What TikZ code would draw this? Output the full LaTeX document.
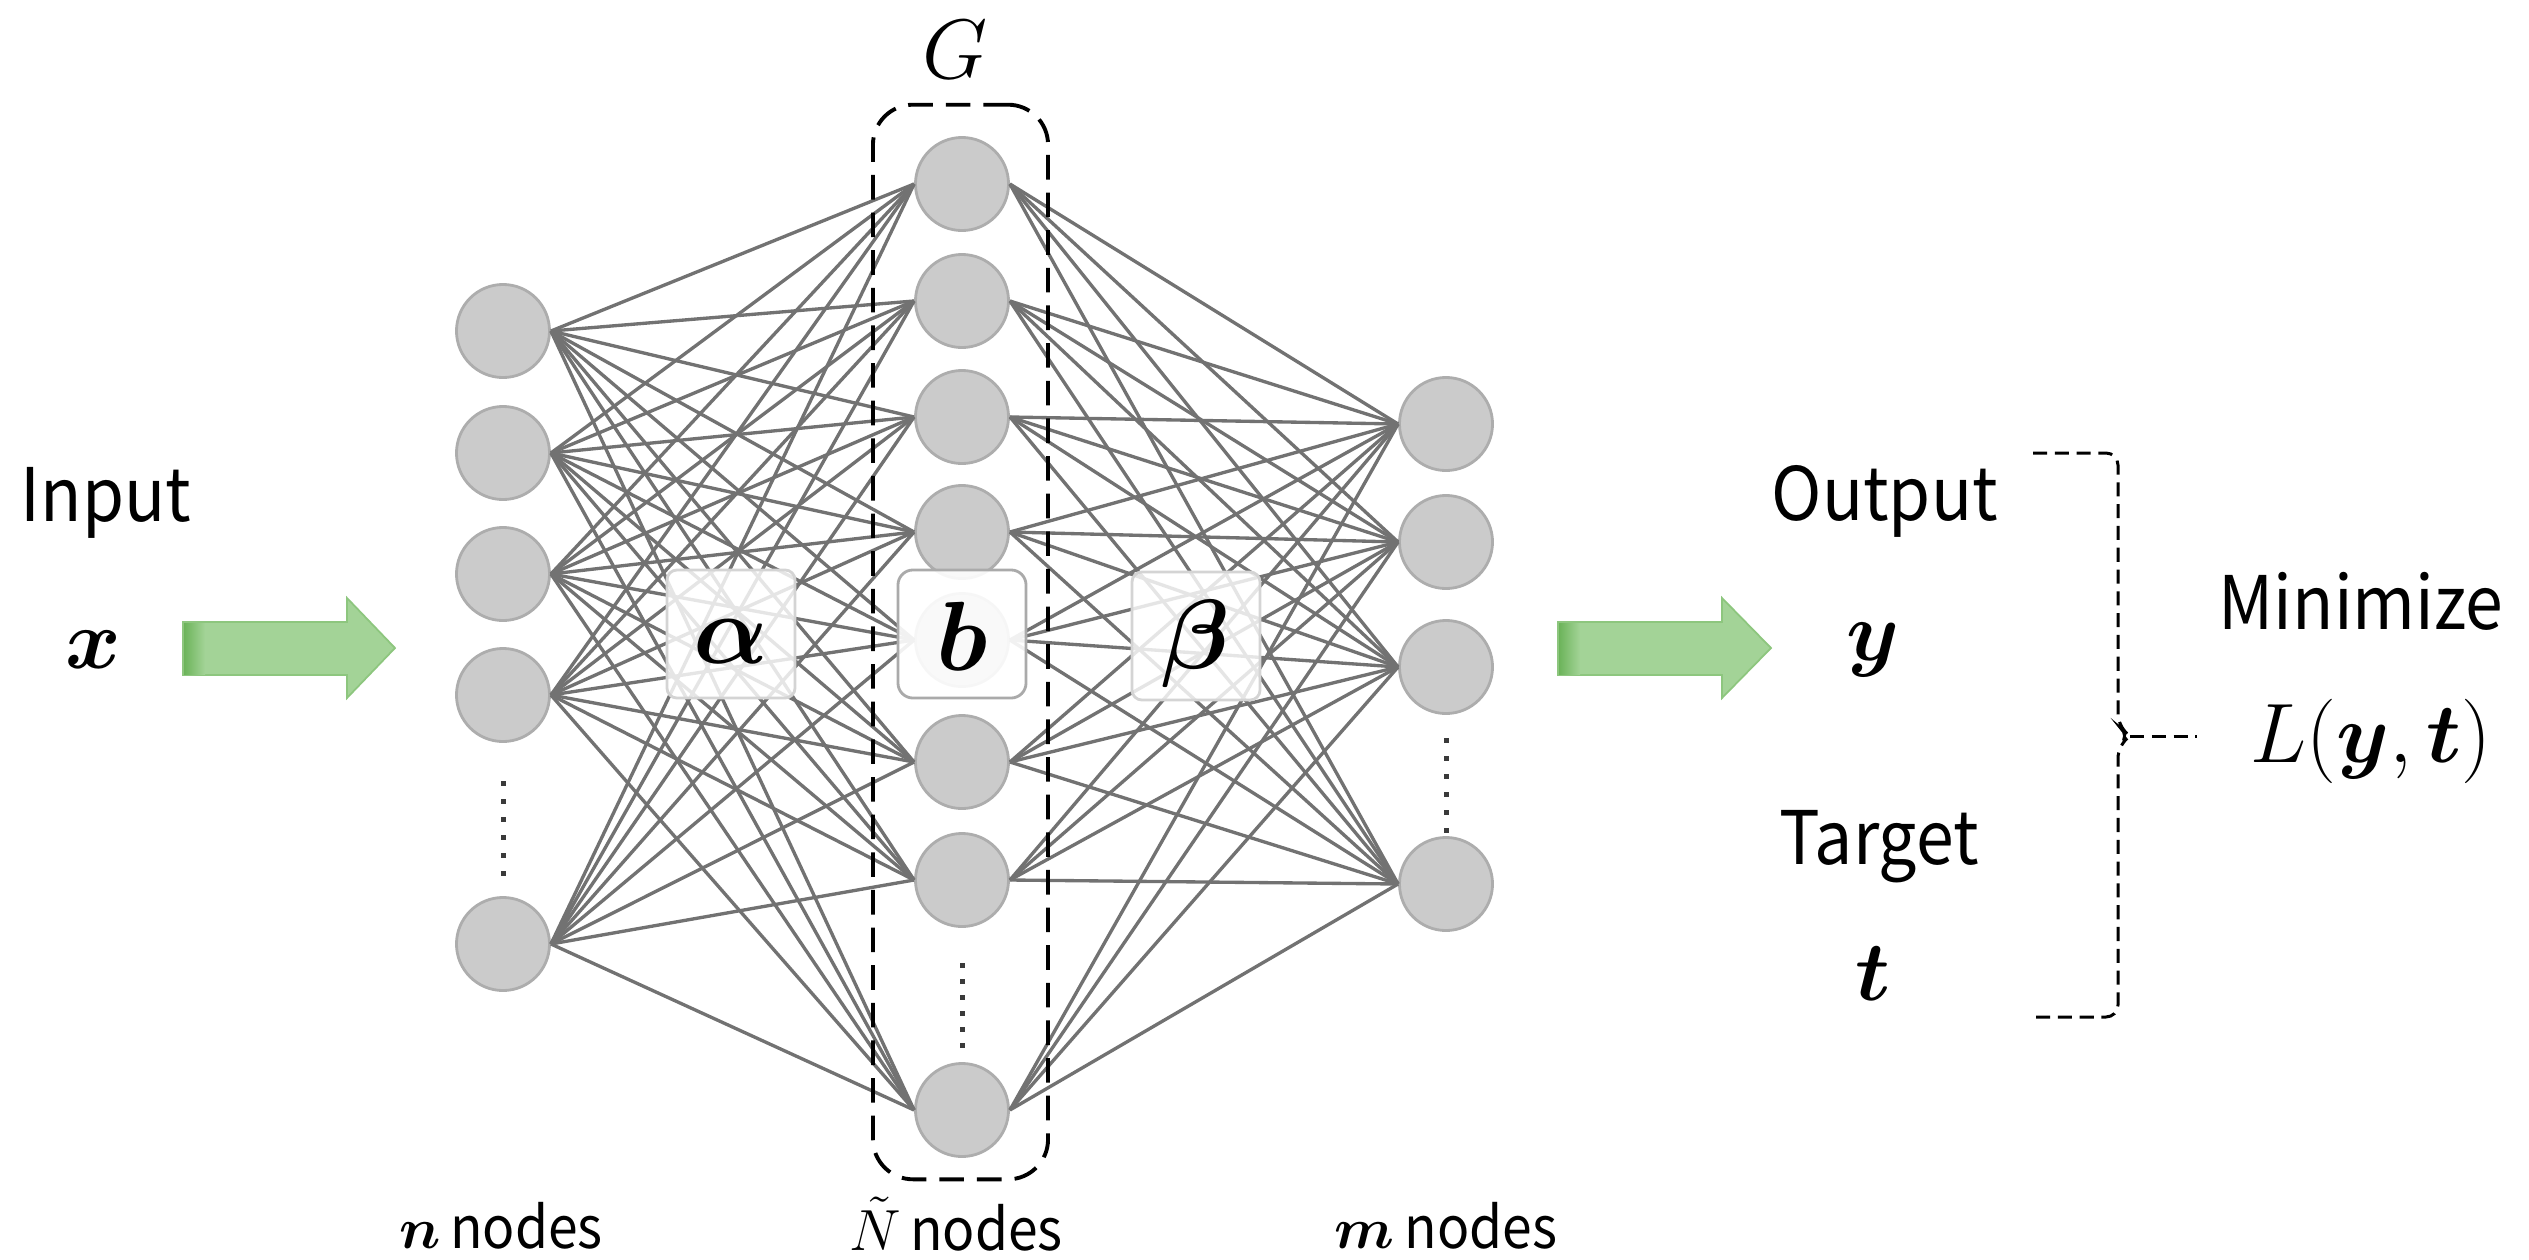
\RequirePackage{fix-cm}
\documentclass[tikz,border=0pt]{standalone}
\usepackage{amsmath}
\usepackage{fontspec}
\newfontfamily\labelfont[FakeStretch=0.92]{Noto Sans CJK JP}
\definecolor{nodefill}{HTML}{CBCBCB}
\definecolor{nodeedge}{HTML}{ADADAD}
\definecolor{connc}{HTML}{727272}
\definecolor{boxedge}{HTML}{D4D4D4}
\definecolor{dotc}{HTML}{3A3A3A}
\definecolor{arrowg}{HTML}{A3D397}
\definecolor{arrowd}{HTML}{6CB45A}
\definecolor{arrowe}{HTML}{8DC67E}
\begin{document}
\begin{tikzpicture}[x=0.01cm,y=-0.01cm,
  neuron/.style={circle, draw=nodeedge, line width=0.8pt, fill=nodefill, minimum size=0.93cm, inner sep=0pt},
  conn/.style={draw=connc, line width=0.95pt},
  lbl/.style={font=\labelfont\fontsize{21}{25}\selectfont, inner sep=0pt},
  mth/.style={font=\fontsize{24}{28}\selectfont, inner sep=0pt},
  bigmth/.style={font=\fontsize{28}{32}\selectfont, inner sep=0pt},
  botlbl/.style={font=\fontsize{16.5}{20}\selectfont, inner sep=0pt},
  wbox/.style={draw=boxedge, line width=0.8pt, fill=white, fill opacity=0.82, rounded corners=0.1cm, minimum size=1.28cm, inner sep=0pt},
  bbox/.style={draw=boxedge!80!black, line width=0.8pt, fill=white, fill opacity=0.9, rounded corners=0.15cm, minimum size=1.28cm, inner sep=0pt},
  gdash/.style={draw=black, line width=1.1pt, dash pattern=on 7pt off 3.7pt, rounded corners=0.4cm, inner sep=0pt},
  bdash/.style={draw=black, line width=0.85pt, dash pattern=on 4pt off 2.2pt},
  dotsq/.style={fill=dotc, minimum size=0.05cm, inner sep=0pt},
  garrow/.style={fill=arrowg, draw=arrowe, line width=0.5pt}]
\useasboundingbox (0,0) rectangle (2529,1260);

% neurons
\foreach \y [count=\i] in {331,453,574,695,944} \node[neuron] (i\i) at (503,\y) {};
\foreach \y [count=\i] in {184,301,417,532,640,762,880,1110} \node[neuron] (h\i) at (962,\y) {};
\foreach \y [count=\i] in {424,542,667,884} \node[neuron] (o\i) at (1446,\y) {};

% connections
\foreach \a in {1,...,5} \foreach \b in {1,...,8} \draw[conn] (i\a.east) -- (h\b.west);
\foreach \a in {1,...,8} \foreach \b in {1,...,4} \draw[conn] (h\a.east) -- (o\b.west);

% dots
\foreach \k in {0,...,5} \node[dotsq] (idot\k) at (503,{783+18*\k}) {};
\foreach \k in {0,...,5} \node[dotsq] (odot\k) at (1446,{740+18*\k}) {};
\foreach \k in {0,...,5} \node[dotsq] (hdot\k) at (962,{965+16*\k}) {};

% weight boxes
\node[wbox] (abox) at (731,634) {};
\node[bbox] (bboxn) at (962,634) {};
\node[wbox] (betabox) at (1196,636) {};
\node[bigmth] (alab) at (731,642) {$\boldsymbol{\alpha}$};
\node[bigmth] (blab) at (962,636) {$\boldsymbol{b}$};
\node[bigmth] (betalab) at (1196,644) {$\boldsymbol{\beta}$};

% G box
\node[gdash, minimum width=1.75cm, minimum height=10.74cm] (gbox) at (960.5,642) {};
\node[mth] (glab) at (955,50) {$G$};

% arrows
\draw[garrow] (183,622) -- (347,622) -- (347,598) -- (395,648) -- (347,698) -- (347,675) -- (183,675) -- cycle;
\shade[left color=arrowd, right color=arrowg] (184,623) rectangle (205,674);
\draw[garrow] (1558,622) -- (1722,622) -- (1722,598) -- (1771,648) -- (1722,698) -- (1722,675) -- (1558,675) -- cycle;
\shade[left color=arrowd, right color=arrowg] (1559,623) rectangle (1580,674);

% left labels
\node[lbl, anchor=base west] (inlab) at (20,521) {Input};
\node[mth] (xlab) at (93,650) {$\boldsymbol{x}$};

% right labels
\node[lbl, anchor=base west] (outlab) at (1771,520) {Output};
\node[mth] (ylab) at (1873,650) {$\boldsymbol{y}$};
\node[lbl, anchor=base west] (tarlab) at (1779,864) {Target};
\node[mth, anchor=base] (tlab) at (1873,1000) {$\boldsymbol{t}$};

% brace
\draw[bdash, rounded corners=0.12cm] (2033,453) -- (2118,453) -- (2118,726) -- (2130,736) -- (2118,746) -- (2118,1017) -- (2033,1017);
\coordinate (btip) at (2130,736);
\coordinate (lend) at (2197,736);
\draw[bdash] (btip) -- (lend);
\node[lbl, anchor=base west] (minlab) at (2218,629) {Minimize};
\node[mth, anchor=base west] (loss) at (2250,762) {$L(\boldsymbol{y},\boldsymbol{t})$};

% bottom labels
\node[botlbl, anchor=base] (nlab) at (501,1248) {$\boldsymbol{n}$\,{\labelfont nodes}};
\node[botlbl, anchor=base] (Nlab) at (956,1250) {$\tilde{N}$\,{\labelfont nodes}};
\node[botlbl, anchor=base] (mlab) at (1446,1248) {$\boldsymbol{m}$\,{\labelfont nodes}};
\end{tikzpicture}
\end{document}
